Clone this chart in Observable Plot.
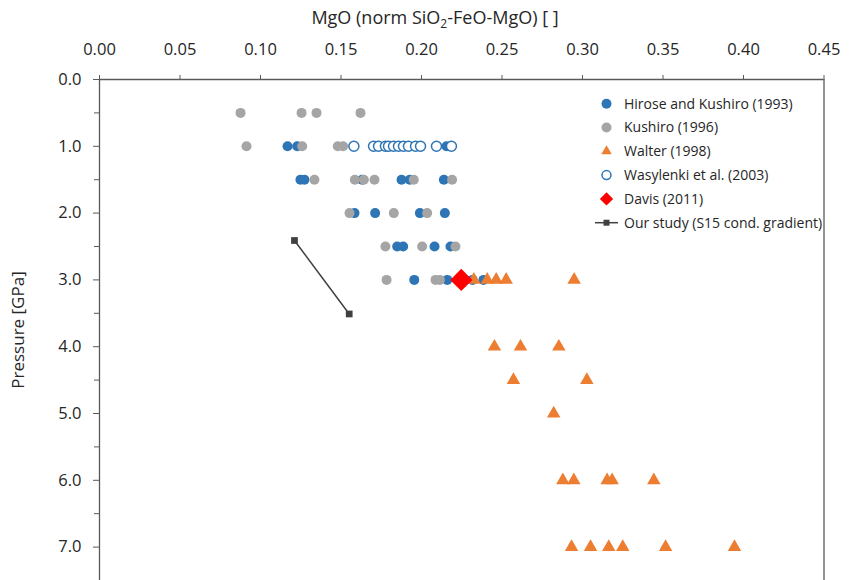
<!DOCTYPE html>
<html><head><meta charset="utf-8">
<script src="https://cdn.jsdelivr.net/npm/d3@7"></script>
<script src="https://cdn.jsdelivr.net/npm/@observablehq/plot@0.6"></script>
<style>
body{margin:0;background:#fff;}
#chart svg{font-family:"Open Sans",sans-serif;}
</style></head><body><div id="chart"></div>
<script>
// ---- data (MgO normalised fraction vs pressure in GPa) ----
const hiroseX = [0.1168,0.1228,0.2155, 0.1248,0.1273,0.1631,0.1876,0.1927,0.2139, 0.1584,0.1712,0.1990,0.2145, 0.1849,0.1886,0.2081,0.2180, 0.1955,0.2160,0.2317,0.2385];
const hiroseP = [1,1,1, 1.5,1.5,1.5,1.5,1.5,1.5, 2,2,2,2, 2.5,2.5,2.5,2.5, 3,3,3,3];

const kushiroX = [0.0876,0.1255,0.1348,0.1621, 0.0913,0.1259,0.1480,0.1513, 0.1335,0.1586,0.1642,0.1708,0.1952,0.2190, 0.1553,0.1828,0.2035, 0.1776,0.2004,0.2211, 0.1783,0.2087,0.2114];
const kushiroP = [0.5,0.5,0.5,0.5, 1,1,1,1, 1.5,1.5,1.5,1.5,1.5,1.5, 2,2,2, 2.5,2.5,2.5, 3,3,3];

const walterX = [0.2325,0.2408,0.2464,0.2526,0.2948, 0.2453,0.2615,0.2853, 0.2571,0.3027, 0.2821, 0.2878,0.2946,0.3153,0.3184,0.3443, 0.2932,0.3050,0.3163,0.3250,0.3516,0.3944];
const walterP = [3,3,3,3,3, 4,4,4, 4.5,4.5, 5, 6,6,6,6,6, 7,7,7,7,7,7];

const wasylenkiX = [0.1580,0.1702,0.1733,0.1776,0.1795,0.1826,0.1857,0.1888,0.1919,0.1963,0.1994,0.2093,0.2186];
const wasylenkiP = [1,1,1,1,1,1,1,1,1,1,1,1,1];

const davisX = [0.2247];
const davisP = [3.0];

const oursX = [0.1211, 0.1551];
const oursP = [2.41, 3.51];

const xTicks = [0, 0.05, 0.10, 0.15, 0.20, 0.25, 0.30, 0.35, 0.40, 0.45];
const yTicks = [0, 1, 2, 3, 4, 5, 6, 7];
const yMinorTicks = [0.5, 1.5, 2.5, 3.5, 4.5, 5.5, 6.5, 7.5];

const seriesNames = ["Hirose and Kushiro (1993)", "Kushiro (1996)", "Walter (1998)", "Wasylenki et al. (2003)", "Davis (2011)", "Our study (S15 cond. gradient)"];

const BLUE = "#2e75b6", GRAY = "#a5a5a5", ORANGE = "#ed7d31", RED = "#ff0000", DARK = "#404040", AXIS = "#595959", TEXT = "#262626";

const rows = (xs, ps) => xs.map((x, i) => ({x, p: ps[i]}));
const hirose = rows(hiroseX, hiroseP);
const kushiro = rows(kushiroX, kushiroP);
const walter = rows(walterX, walterP);
const wasylenki = rows(wasylenkiX, wasylenkiP);
const davis = rows(davisX, davisP);
const ours = rows(oursX, oursP);

const chart = Plot.plot({
  width: 853, height: 580,
  marginLeft: 99, marginRight: 29.5, marginTop: 79, marginBottom: 0,
  x: {domain: [0, 0.45]},
  y: {domain: [7.5, 0]},
  style: {fontFamily: "Open Sans, sans-serif", fontSize: "16px", color: TEXT, background: "white", overflow: "visible"},
  marks: [
    Plot.axisX(xTicks, {anchor: "top", tickSize: 5, tickPadding: 20, tickFormat: d3.format(".2f"), fontSize: 16.5, stroke: AXIS, fill: TEXT, label: null}),
    Plot.axisY(yTicks, {anchor: "left", tickSize: 6, tickPadding: 12, tickFormat: d3.format(".1f"), fontSize: 16.5, stroke: AXIS, fill: TEXT, label: null}),
    Plot.axisY(yMinorTicks, {anchor: "left", tickSize: 5, tickFormat: () => "", stroke: AXIS, label: null}),
    Plot.ruleY([0], {stroke: AXIS, strokeWidth: 1.3}),
    Plot.ruleX([0], {stroke: AXIS, strokeWidth: 1.3}),
    Plot.ruleX([0.45], {stroke: AXIS, strokeWidth: 1.3}),
    Plot.dot(hirose, {x: "x", y: "p", r: 5, fill: BLUE}),
    Plot.dot(kushiro, {x: "x", y: "p", r: 5, fill: GRAY}),
    Plot.dot(walter, {x: "x", y: "p", r: 5, symbol: "triangle", fill: ORANGE}),
    Plot.dot(wasylenki, {x: "x", y: "p", r: 5, fill: "white", stroke: BLUE, strokeWidth: 1.5}),
    Plot.dot(davis, {x: "x", y: "p", r: 10, symbol: "diamond2", fill: RED}),
    Plot.line(ours, {x: "x", y: "p", stroke: DARK, strokeWidth: 1.5}),
    Plot.dot(ours, {x: "x", y: "p", r: 3.8, symbol: "square", fill: DARK})
  ]
});
document.getElementById("chart").appendChild(chart);

// ---- titles and legend ----
const svg = d3.select(chart);
const xt = svg.append("text").attr("x", 435).attr("y", 24).attr("text-anchor", "middle")
  .attr("fill", TEXT).style("font-size", "18px");
xt.append("tspan").text("MgO (norm SiO");
xt.append("tspan").attr("dy", 4).style("font-size", "12px").text("2");
xt.append("tspan").attr("dy", -4).text("-FeO-MgO) [ ]");

svg.append("text").attr("transform", "translate(24,330) rotate(-90)").attr("text-anchor", "middle")
  .attr("fill", TEXT).style("font-size", "17px").text("Pressure [GPa]");

const lg = svg.append("g").attr("transform", "translate(606.5,103.7)");
const sw = [
  {sym: d3.symbolCircle, r: 5, fill: BLUE},
  {sym: d3.symbolCircle, r: 5, fill: GRAY},
  {sym: d3.symbolTriangle2, r: 5, fill: ORANGE},
  {sym: d3.symbolCircle, r: 4.5, fill: "white", stroke: BLUE},
  {sym: d3.symbolDiamond2, r: 6, fill: RED},
  {sym: d3.symbolSquare2, r: 3.8, fill: DARK, line: true}
];
seriesNames.forEach((name, i) => {
  const g = lg.append("g").attr("transform", `translate(0,${i * 23.8})`);
  const s = sw[i];
  if (s.line) g.append("line").attr("x1", -11.5).attr("x2", 11.5).attr("stroke", DARK).attr("stroke-width", 1.5);
  g.append("path").attr("d", d3.symbol(s.sym, Math.PI * s.r * s.r)())
    .attr("fill", s.fill).attr("stroke", s.stroke || "none").attr("stroke-width", 1.5);
  g.append("text").attr("x", 17.5).attr("dy", "0.35em").attr("text-anchor", "start")
    .attr("fill", TEXT).style("font-size", "14px").text(name);
});
</script></body></html>
